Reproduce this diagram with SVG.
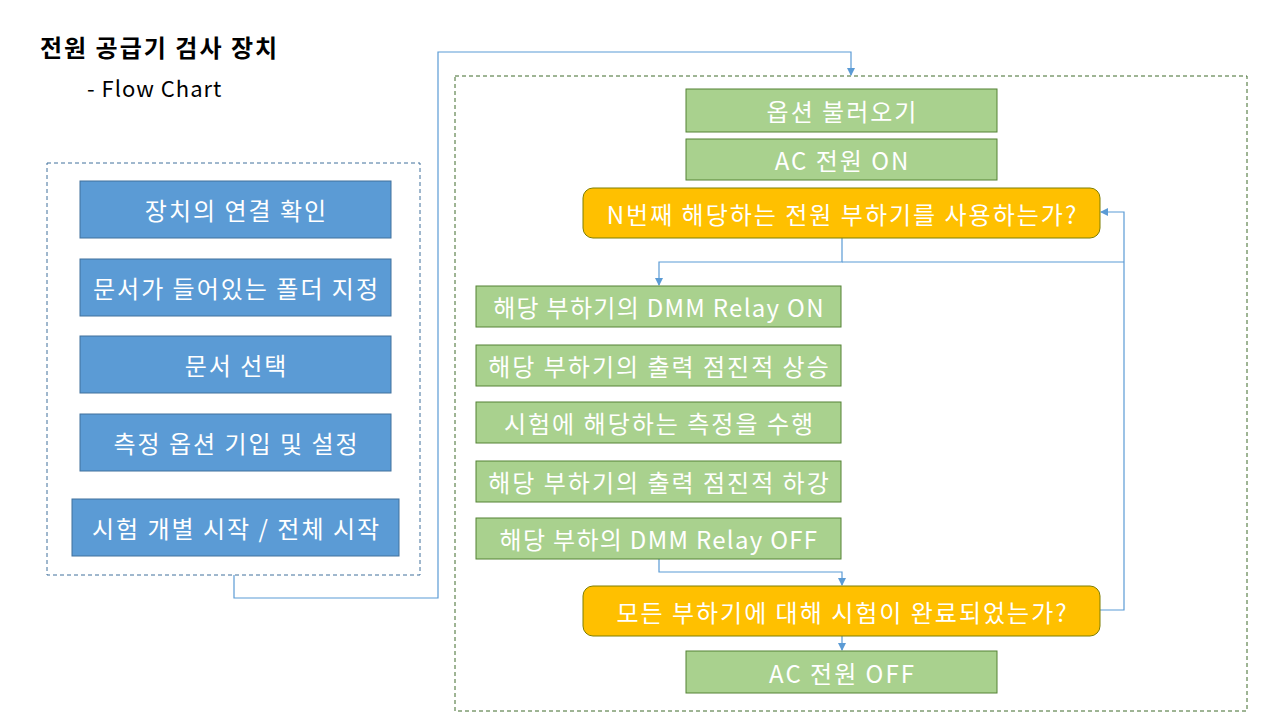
<svg xmlns="http://www.w3.org/2000/svg" width="1280" height="720" viewBox="0 0 1280 720">
<defs>
<marker id="arr" markerWidth="8" markerHeight="8" refX="7" refY="4" orient="auto" markerUnits="userSpaceOnUse">
<path d="M0,0 L8,4 L0,8 z" fill="#5B9BD5"/>
</marker>
<style>
text{font-family:"Malgun Gothic","Noto Sans CJK KR","Noto Sans",sans-serif;}
.t{fill:#fff;font-size:24px;letter-spacing:2px;text-anchor:middle;dominant-baseline:central;}
.t.tight{letter-spacing:1.3px;}
.blue{fill:#5B9BD5;stroke:#41719C;stroke-width:1;}
.green{fill:#A9D18E;stroke:#548235;stroke-width:1;}
.yel{fill:#FFC000;stroke:#7F7F00;stroke-width:1;}
.conn{fill:none;stroke:#5B9BD5;stroke-width:1.2;}
.dashL{fill:none;stroke:#41719C;stroke-width:1;stroke-dasharray:4,3;}
.dashR{fill:none;stroke:#3E6B2A;stroke-width:1;stroke-dasharray:4,3;}
</style>
</defs>
<rect width="1280" height="720" fill="#fff"/>
<g id="title">
<text x="40" y="57" font-size="24" font-weight="bold" letter-spacing="2" fill="#000">전원 공급기 검사 장치</text>
<text x="87" y="97" font-size="22" letter-spacing="1" fill="#000">- Flow Chart</text>
</g>
<g id="frames">
<rect class="dashL" x="47" y="163" width="373" height="412"/>
<rect class="dashR" x="455" y="76" width="792" height="635"/>
</g>
<g id="connectors">
<path class="conn" d="M234,575 V598 H438 V52 H851 V75" marker-end="url(#arr)"/>
<path class="conn" d="M842,238 V262 H659 V285" marker-end="url(#arr)"/>
<path class="conn" d="M842,262 H1124"/>
<path class="conn" d="M1100,610 H1124 V212 H1101" marker-end="url(#arr)"/>
<path class="conn" d="M659,559 V572 H842 V585" marker-end="url(#arr)"/>
<path class="conn" d="M842,636 V650" marker-end="url(#arr)"/>
</g>
<g id="n1"><rect class="blue" x="80" y="181" width="311" height="57"/><text class="t" x="236.5" y="209.5">장치의 연결 확인</text></g>
<g id="n2"><rect class="blue" x="80" y="259" width="311" height="57"/><text class="t" x="236.5" y="287.5">문서가 들어있는 폴더 지정</text></g>
<g id="n3"><rect class="blue" x="80" y="336" width="311" height="57"/><text class="t" x="236.5" y="364.5">문서 선택</text></g>
<g id="n4"><rect class="blue" x="80" y="414" width="311" height="57"/><text class="t" x="236.5" y="442.5">측정 옵션 기입 및 설정</text></g>
<g id="n5"><rect class="blue" x="72" y="499" width="327" height="57"/><text class="t" x="236.5" y="527.5">시험 개별 시작 / 전체 시작</text></g>
<g id="g1"><rect class="green" x="686" y="89" width="311" height="43"/><text class="t" x="842.5" y="110.5">옵션 불러오기</text></g>
<g id="g2"><rect class="green" x="686" y="139" width="311" height="41"/><text class="t" x="842.5" y="159.5">AC 전원 ON</text></g>
<g id="d1"><rect class="yel" x="583" y="188" width="517" height="50" rx="10"/><text class="t" x="842.5" y="213">N번째 해당하는 전원 부하기를 사용하는가?</text></g>
<g id="s1"><rect class="green" x="476" y="286" width="365" height="41"/><text class="t tight" x="659" y="306.5">해당 부하기의 DMM Relay ON</text></g>
<g id="s2"><rect class="green" x="476" y="345" width="365" height="41"/><text class="t" x="659.5" y="365.5">해당 부하기의 출력 점진적 상승</text></g>
<g id="s3"><rect class="green" x="476" y="402" width="365" height="41"/><text class="t" x="659.5" y="422.5">시험에 해당하는 측정을 수행</text></g>
<g id="s4"><rect class="green" x="476" y="461" width="365" height="41"/><text class="t" x="659.5" y="481.5">해당 부하기의 출력 점진적 하강</text></g>
<g id="s5"><rect class="green" x="476" y="518" width="365" height="41"/><text class="t tight" x="659" y="538.5">해당 부하의 DMM Relay OFF</text></g>
<g id="d2"><rect class="yel" x="583" y="586" width="517" height="50" rx="10"/><text class="t" x="842.5" y="611">모든 부하기에 대해 시험이 완료되었는가?</text></g>
<g id="g3"><rect class="green" x="686" y="651" width="311" height="42"/><text class="t" x="842.5" y="672">AC 전원 OFF</text></g>
</svg>
